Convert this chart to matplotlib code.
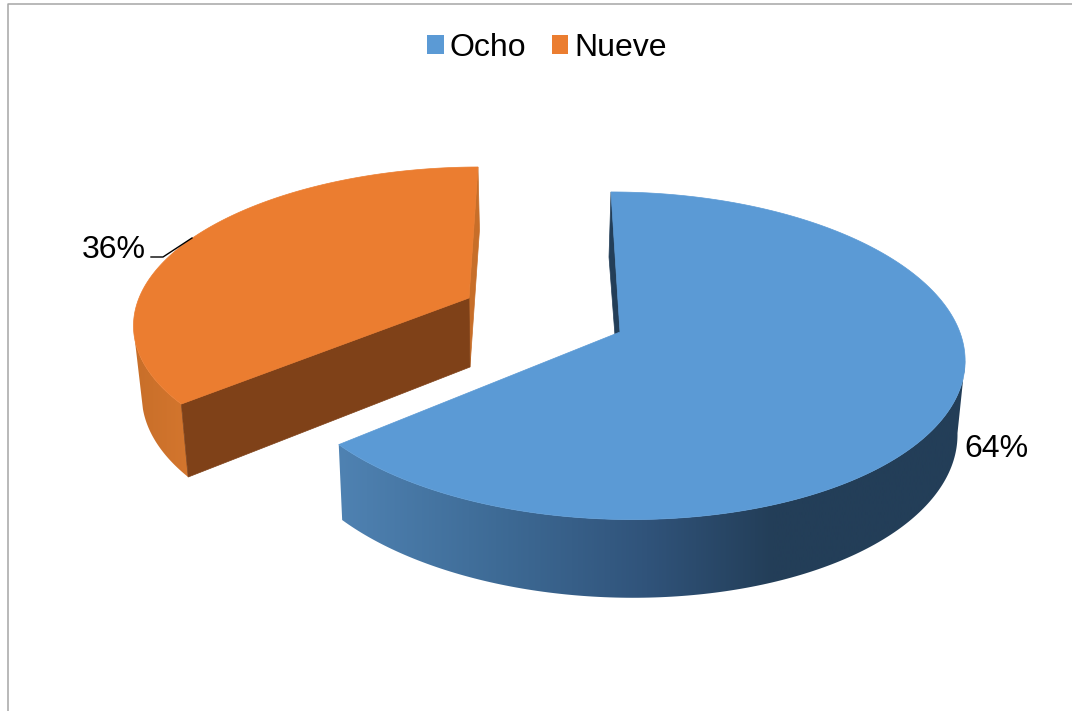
import numpy as np
import matplotlib
matplotlib.use("Agg")
import matplotlib.pyplot as plt
from matplotlib.patches import Polygon, Patch
from matplotlib.lines import Line2D
from matplotlib.colors import LinearSegmentedColormap

# ---- data ----
categories = ["Ocho", "Nueve"]
values = [64, 36]
slice_colors = ["#5B9AD5", "#EB7D30"]

# ---- projection of each slice's top and bottom disc (unit circle -> pixels) ----
# parameters: a, b, c, d, e, f, g, h
BLUE_TOP = (339.8, 79.6, 620, 0, -112.2, 332, 0, 0.145)
BLUE_BOT = (341.3, 77.2, 620.1, 5, -108.4, 402.7, 0.01, 0.145)
ORANGE_TOP = (330.3, 78.3, 469, -0.8, -106.8, 298, 0, 0.145)
ORANGE_BOT = (323, 79, 470, 0.2, -103.7, 367, 0, 0.145)


def proj(p, X, Y):
    a, b, c, d, e, f, g, h = p
    w = g * X + h * Y + 1
    return (a * X + b * Y + c) / w, (d * X + e * Y + f) / w


def rim(p, t):
    return np.column_stack(proj(p, np.sin(t), np.cos(t)))


def apex(p):
    return np.array(proj(p, 0.0, 0.0))


plt.rcParams["font.family"] = ["Liberation Sans", "DejaVu Sans"]
fig = plt.figure(figsize=(10.72, 7.11), dpi=100, facecolor="white")
ax = fig.add_axes([0, 0, 1, 1])
ax.axis("off")

# chart frame
ax.add_line(Line2D([8.0, 8.0, 1072], [711, 4.3, 4.3], color="#A6A6A6", lw=1.1, zorder=1))

# slice angles, clockwise from 12 o'clock
share = np.array(values, dtype=float) / sum(values)
split = 2 * np.pi * share[0]
full = 2 * np.pi


def gradient_wall(top, bot, t, x0, x1, colors, z):
    """Curved outer wall: horizontal colour ramp clipped to the wall outline."""
    outline = np.vstack([rim(top, t), rim(bot, t)[::-1]])
    poly = Polygon(outline, closed=True, fc="none", ec="none", transform=ax.transData)
    ax.add_patch(poly)
    cmap = LinearSegmentedColormap.from_list("wall", colors)
    im = ax.imshow(np.linspace(0, 1, 512)[None, :], cmap=cmap, aspect="auto",
                   extent=(x0, x1, 711, 0), zorder=z, interpolation="bilinear")
    im.set_clip_path(poly)


# ---- blue slice ----
t_blue = np.linspace(0, split, 240)
bt0, bb0 = rim(BLUE_TOP, t_blue[[0]])[0], rim(BLUE_BOT, t_blue[[0]])[0]
ax.add_patch(Polygon([bt0, bb0, apex(BLUE_BOT), apex(BLUE_TOP)], fc="#233E58", ec="#233E58", lw=0.5, zorder=2))
gradient_wall(BLUE_TOP, BLUE_BOT, np.linspace(np.radians(100), split, 160), 338, 970,
              [(0, "#4F82B2"), (0.25, "#3E6B96"), (0.49, "#30537A"), (0.69, "#233E58"), (1, "#233E58")], 3)
ax.add_patch(Polygon(np.vstack([apex(BLUE_TOP), rim(BLUE_TOP, t_blue)]), fc=slice_colors[0],
                     ec=slice_colors[0], lw=0.5, zorder=4))

# ---- orange slice ----
t_or = np.linspace(split, full, 200)
gradient_wall(ORANGE_TOP, ORANGE_BOT, np.linspace(split, np.radians(255), 60), 130, 190,
              ["#C76E29", "#D4762E"], 5)
ot1, ob1 = rim(ORANGE_TOP, t_or[[-1]])[0], rim(ORANGE_BOT, t_or[[-1]])[0]
ax.add_patch(Polygon([ot1, ob1, apex(ORANGE_BOT), apex(ORANGE_TOP)], fc="#C76E29", ec="#C76E29", lw=0.5, zorder=5))
ot0, ob0 = rim(ORANGE_TOP, t_or[[0]])[0], rim(ORANGE_BOT, t_or[[0]])[0]
ax.add_patch(Polygon([apex(ORANGE_TOP), ot0, ob0, apex(ORANGE_BOT)], fc="#7F4118", ec="#7F4118", lw=0.5, zorder=6))
ax.add_patch(Polygon(np.vstack([apex(ORANGE_TOP), rim(ORANGE_TOP, t_or)]), fc=slice_colors[1],
                     ec=slice_colors[1], lw=0.5, zorder=7))

ax.set_xlim(0, 1072)
ax.set_ylim(711, 0)

# ---- data labels ----
FS = 23
ax.text(964, 457, f"{values[0]}%", fontsize=FS, color="black", ha="left", va="baseline", zorder=9)
ax.text(82, 258, f"{values[1]}%", fontsize=FS, color="black", ha="left", va="baseline", zorder=9)
ax.add_line(Line2D([151, 163, 192], [257, 257, 238], color="black", lw=1.0, zorder=8))

# ---- legend ----
handles = [Patch(fc=c, ec="none") for c in slice_colors]
ax.legend(handles, categories, ncols=2, loc="center", bbox_to_anchor=(547, 48),
          bbox_transform=ax.transData, frameon=False, fontsize=FS,
          handlelength=0.53, handleheight=0.53, handletextpad=0.2, columnspacing=0.78,
          borderpad=0, borderaxespad=0)

fig.savefig("out.png", dpi=100)
